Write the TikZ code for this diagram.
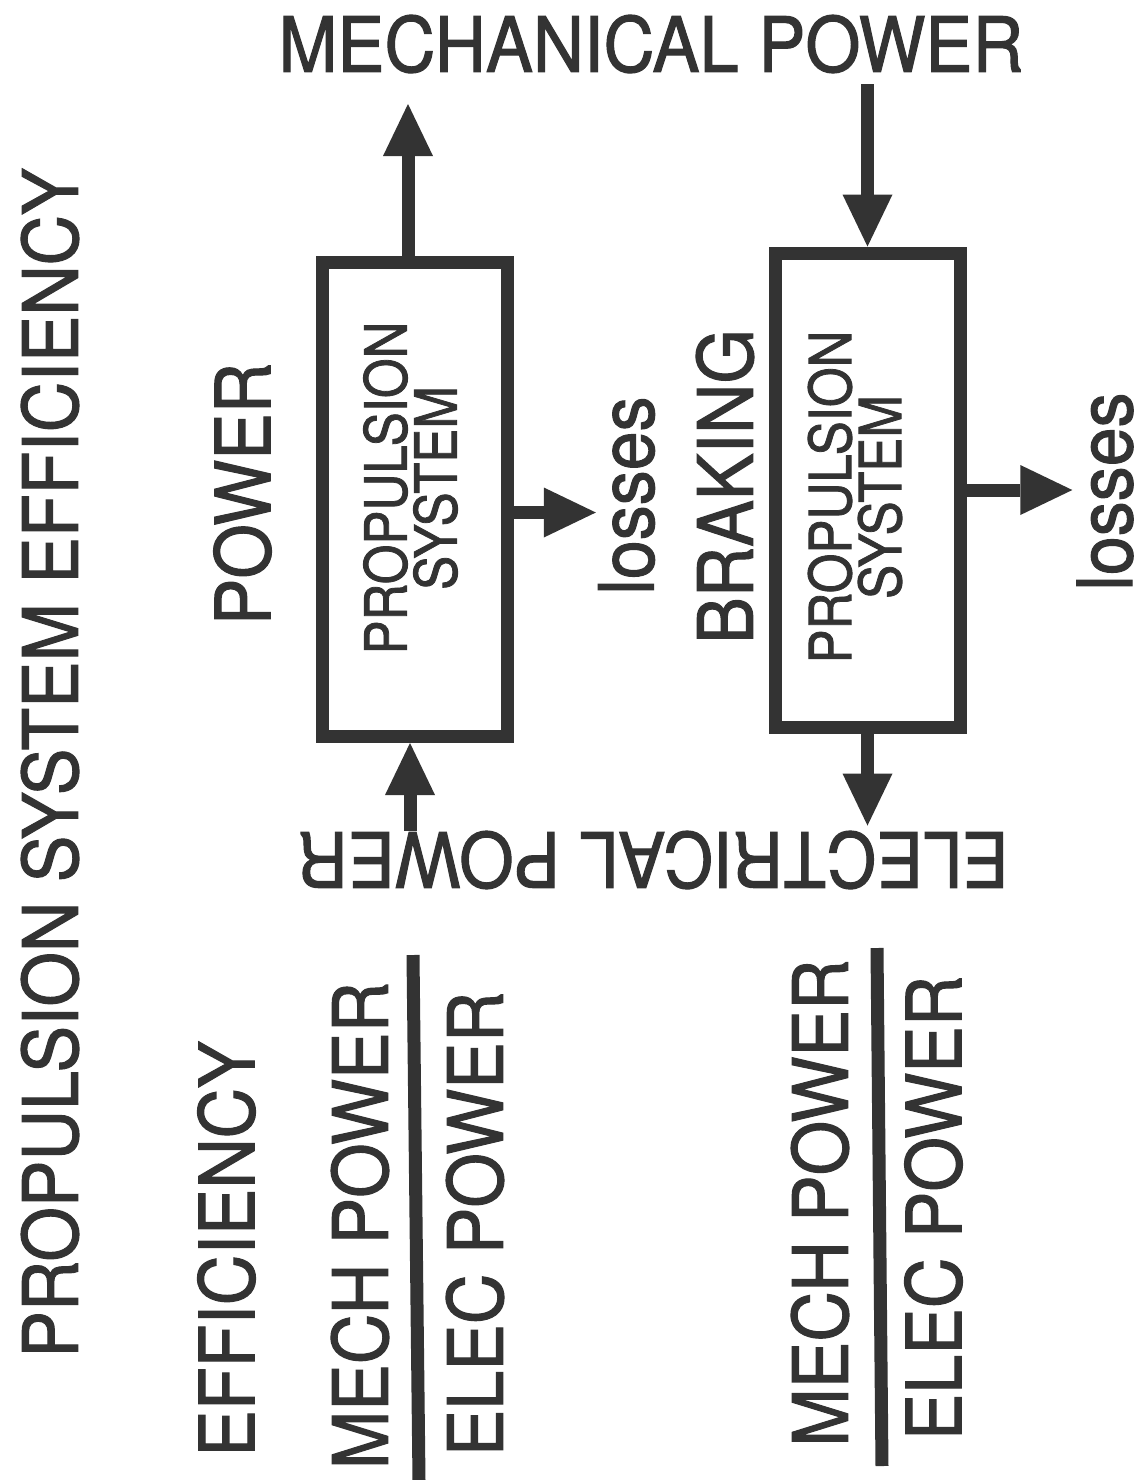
\documentclass[tikz,border=0pt]{standalone}
\usepackage{fontspec}
\setmainfont{TeX Gyre Heros}[FakeBold=1.5]
\usepackage{tikz}
\usetikzlibrary{arrows.meta,positioning}
\usepackage{xcolor}
\definecolor{ink}{HTML}{333333}

\begin{document}
\begin{tikzpicture}[x=0.5pt, y=-0.5pt,
    big/.style={font=\fontsize{38}{40}\selectfont, text=ink, inner sep=0pt, xscale=0.92},
    sysbox/.style={draw=ink, line width=6.5pt, minimum width=92.5pt, minimum height=237pt, inner sep=0pt},
    boxtext/.style={font=\fontsize{29}{25}\selectfont, text=ink, align=center, inner sep=0pt, xscale=0.88},
    flow/.style={draw=ink, line width=6.5pt, -{Triangle[length=26pt, width=25pt, line width=0pt]}},
    bar/.style={draw=ink, line width=6.5pt}]

    \useasboundingbox[fill=white] (0,0) rectangle (1143,1480);

    % Title (left column)
    \node[rotate=90, big] (title) at (50,763) {PROPULSION SYSTEM EFFICIENCY};

    % Outer labels
    \node[big, xscale=1.01] (mech) at (651,44) {MECHANICAL POWER};
    \node[rotate=180, big] (elec) at (653.5,860) {ELECTRICAL POWER};

    % Power mode
    \node[sysbox] (box1) at (414.5,499.5) {};
    \node[rotate=90, boxtext] (sys1) at (410.5,488) {PROPULSION\\SYSTEM};
    \node[rotate=90, big] (power) at (242.5,494) {POWER};
    \node[rotate=90, big] (loss1) at (626.5,495.5) {losses};
    \coordinate (mechtip) at (408,104);
    \draw[flow] (box1.north -| mechtip) -- (mechtip);
    \draw[flow] ([xshift=-2.25pt]box1.south |- elec.south) -- ([xshift=-2.25pt]box1.south);
    \draw[flow, shorten >=1pt] ([yshift=-6.5pt]box1.east) -- ([yshift=-6.5pt]box1.east -| loss1.north);

    % Braking mode
    \node[sysbox] (box2) at (867.5,490) {};
    \node[rotate=90, boxtext] (sys2) at (855,497) {PROPULSION\\SYSTEM};
    \node[rotate=90, big] (braking) at (725,486.5) {BRAKING};
    \node[rotate=90, big] (loss2) at (1105,491.5) {losses};
    \draw[flow, shorten <=5.5pt] (mech.south -| box2.north) -- (box2.north);
    \draw[flow, shorten >=2.5pt] (box2.south) -- (box2.south |- elec.south);
    \draw[flow, shorten >=2pt] (box2.east) -- (box2.east -| loss2.north);

    % Efficiency ratios
    \node[rotate=90, big] (eff) at (226.5,1249) {EFFICIENCY};
    \node[rotate=90, big] (num1) at (360,1225.5) {MECH POWER};
    \node[rotate=90, big] (den1) at (475,1224) {ELEC POWER};
    \draw[bar] (413,955) -- (419,1480);
    \node[rotate=90, big] (num2) at (820,1203) {MECH POWER};
    \node[rotate=90, big] (den2) at (933.5,1208) {ELEC POWER};
    \draw[bar] (877,948) -- (882,1466);
\end{tikzpicture}
\end{document}
